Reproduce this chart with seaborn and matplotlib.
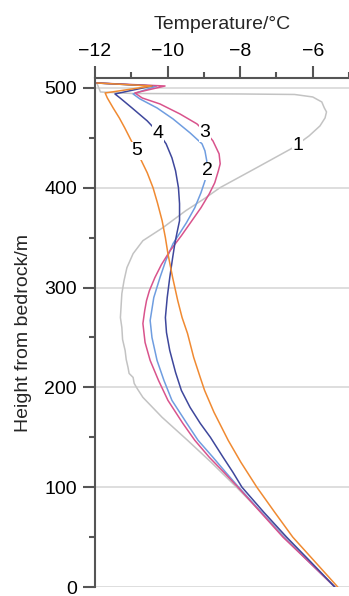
import pandas as pd
import seaborn as sns
import matplotlib.pyplot as plt
from matplotlib.ticker import MultipleLocator

# ------------------- Profile data (height from bedrock / m, temperature / °C) -------------------
h1 = [505, 496, 494.5, 494, 493.5, 491, 486, 480, 476, 470, 462, 452, 440, 420, 400, 390, 377,
      360, 347, 334, 320, 307, 294, 282, 270, 260, 248, 237, 228, 220, 214, 210, 204, 199, 190, 170,
      147, 125, 100, 75, 50, 25, 0]
t1 = [-11.95, -11.85, -11.0, -8.0, -6.5, -6.0, -5.75, -5.68, -5.62, -5.66, -5.80, -6.1, -6.55,
      -7.55, -8.56, -8.95, -9.5, -10.13, -10.68, -10.95, -11.12, -11.2, -11.26, -11.28, -11.3, -11.26,
      -11.24, -11.17, -11.14, -11.09, -11.06, -10.95, -10.92, -10.84, -10.68, -10.15, -9.45, -8.8,
      -8.1, -7.42, -6.75, -6.07, -5.39]

h2 = [505, 502, 494, 489, 480, 469, 455, 444, 437, 427, 417, 407, 395, 380, 365, 344, 327, 310,
      290, 267, 250, 227, 207, 187, 164, 147, 130, 115, 100, 75, 50, 25, 0]
t2 = [-11.95, -10.3, -10.95, -10.76, -10.29, -9.85, -9.38, -9.05, -8.97, -8.92, -8.92, -8.97,
      -9.08, -9.25, -9.48, -9.85, -10.05, -10.21, -10.38, -10.48, -10.43, -10.29, -10.1, -9.88, -9.47,
      -9.16, -8.75, -8.4, -8.04, -7.42, -6.8, -6.1, -5.39]

h3 = [505, 502, 495, 490, 484, 474, 464, 454, 447, 434, 424, 417, 405, 394, 380, 367, 352, 337, 323,
      310, 297, 287, 277, 264, 245, 227, 207, 187, 164, 147, 130, 115, 100, 75, 50, 25, 0]
t3 = [-11.95, -10.07, -10.9, -10.7, -10.21, -9.66, -9.19, -8.91, -8.75, -8.58, -8.55, -8.6, -8.7,
      -8.85, -9.08, -9.33, -9.62, -9.93, -10.17, -10.35, -10.5, -10.58, -10.63, -10.68, -10.62, -10.48,
      -10.25, -9.99, -9.58, -9.25, -8.85, -8.45, -8.06, -7.44, -6.82, -6.1, -5.39]

h4 = [505, 502, 494, 490, 480, 467, 455, 444, 430, 417, 400, 384, 367, 355, 344, 330, 310, 290, 270,
      255, 237, 215, 197, 180, 164, 150, 130, 115, 100, 75, 50, 25, 0]
t4 = [-11.95, -10.43, -11.45, -11.31, -10.98, -10.56, -10.25, -10.04, -9.88, -9.78, -9.70, -9.67,
      -9.67, -9.74, -9.80, -9.86, -9.94, -10.01, -10.06, -10.03, -9.94, -9.78, -9.62, -9.38, -9.1,
      -8.82, -8.47, -8.2, -7.95, -7.35, -6.72, -6.05, -5.39]

h5 = [505, 502, 495, 490, 480, 470, 460, 450, 440, 427, 415, 400, 385, 367, 350, 334, 310, 287, 270,
      254, 230, 210, 197, 175, 147, 125, 100, 75, 50, 25, 0]
t5 = [-11.95, -10.43, -11.72, -11.66, -11.5, -11.33, -11.18, -11.04, -10.90, -10.72, -10.56, -10.40,
      -10.28, -10.15, -10.06, -9.99, -9.86, -9.72, -9.60, -9.45, -9.28, -9.1, -8.98, -8.72, -8.33,
      -7.98, -7.54, -7.05, -6.55, -5.93, -5.31]

profiles = ['1', '2', '3', '4', '5']
colors = ['#c3c3c3', '#6f9de0', '#d9538c', '#3e479c', '#f08a32']

# label anchor points (temperature, height)
label_t = [-6.41, -8.91, -8.97, -10.26, -10.84]
label_h = [442, 417, 455, 454, 437]

df = pd.concat([
    pd.DataFrame({'profile': p, 'height': h, 'temp': t})
    for p, h, t in zip(profiles, [h1, h2, h3, h4, h5], [t1, t2, t3, t4, t5])
])

# ------------------- Plot -------------------
sns.set_theme(style='white')
plt.rcParams['font.family'] = ['Liberation Sans', 'DejaVu Sans']

fig = plt.figure(figsize=(3.49, 5.96), dpi=100)
ax = fig.add_axes([95 / 349, 9 / 596, 254 / 349, 509 / 596])

sns.lineplot(data=df, x='temp', y='height', hue='profile', palette=dict(zip(profiles, colors)),
             sort=False, estimator=None, lw=1.1, legend=False, ax=ax)

for p, tx, hy in zip(profiles, label_t, label_h):
    ax.text(tx, hy, p, ha='center', va='center', fontsize=14, color='black',
            bbox=dict(facecolor='white', edgecolor='none', pad=0.2))

ax.set_xlim(-12, -5)
ax.set_ylim(0, 510)
ax.xaxis.tick_top()
ax.xaxis.set_label_position('top')
ax.set_xlabel('Temperature/°C', fontsize=14, labelpad=10)
ax.set_ylabel('Height from bedrock/m', fontsize=14, labelpad=9)
ax.set_xticks([-12, -10, -8, -6])
ax.xaxis.set_minor_locator(MultipleLocator(1))
ax.set_yticks([0, 100, 200, 300, 400, 500])
ax.yaxis.set_minor_locator(MultipleLocator(50))

ax.tick_params(axis='both', which='major', length=9, width=1.5, color='#555555', labelsize=14,
               pad=4, labelcolor='black')
ax.tick_params(axis='both', which='minor', length=4.5, width=1.5, color='#555555')
ax.tick_params(axis='x', which='both', top=True, bottom=False)
ax.tick_params(axis='y', which='both', left=True, right=False)

for side in ['right', 'bottom']:
    ax.spines[side].set_visible(False)
for side in ['top', 'left']:
    ax.spines[side].set_color('#555555')
    ax.spines[side].set_linewidth(1.5)

ax.yaxis.grid(True, color='#d4d4d4', lw=1.1)
ax.xaxis.grid(False)
ax.set_axisbelow(True)

fig.savefig('out.png', dpi=100)
